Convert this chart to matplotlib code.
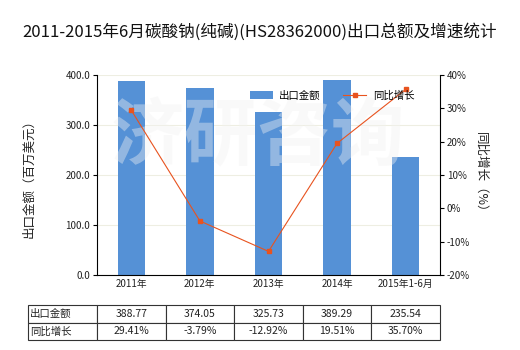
import matplotlib
matplotlib.use("Agg")
import matplotlib.pyplot as plt
import numpy as np

plt.rcParams['font.family'] = ['Noto Sans CJK SC', 'DejaVu Sans']

categories = ["2011年", "2012年", "2013年", "2014年", "2015年1-6月"]
export_values = [388.77, 374.05, 325.73, 389.29, 235.54]
growth_pct = [29.41, -3.79, -12.92, 19.51, 35.70]
export_labels = ["388.77", "374.05", "325.73", "389.29", "235.54"]
growth_labels = ["29.41%", "-3.79%", "-12.92%", "19.51%", "35.70%"]

bar_color = "#5591D6"
line_color = "#E8531F"
txt = "#222222"

fig = plt.figure(figsize=(5.2, 3.5), dpi=100)
ax = fig.add_axes([97/520, 1-275/350, 343/520, 200/350])
x = np.arange(len(categories))
ax.bar(x, export_values, width=0.4, color=bar_color, zorder=2, label="出口金额")
ax.set_xlim(-0.5, len(categories)-0.5)
ax.set_ylim(0, 400)
ax.set_yticks([0, 100, 200, 300, 400])
ax.set_yticklabels([f"{v:.1f}" for v in [0, 100, 200, 300, 400]], fontsize=7, color=txt)
ax.set_xticks(x)
ax.set_xticklabels(categories, fontsize=7, color=txt)
ax.yaxis.grid(True, color="#EEEEE2", linewidth=0.8, zorder=0)
for s in ["top", "right"]:
    ax.spines[s].set_visible(False)
ax.spines["left"].set_color("#000000")
ax.spines["bottom"].set_color("#000000")
ax.tick_params(axis="both", length=3, width=0.8, pad=2)
ax.tick_params(axis="x", length=0, pad=3)
ax.set_ylabel("出口金额（百万美元）", fontsize=9, color=txt)
ax.yaxis.set_label_coords(-0.18, 0.5)

# watermark (drawn in the bar axes so the line stays on top)
ax.text(0.47, 0.69, "济研咨询", transform=ax.transAxes, fontsize=53, color="#F2F2F2",
        alpha=0.4, ha="center", va="center", fontweight="bold", zorder=5)

ax2 = ax.twinx()
ax2.plot(x, growth_pct, color=line_color, linewidth=0.8, marker="s", markersize=3,
         markerfacecolor=line_color, markeredgecolor=line_color, zorder=3, label="同比增长")
ax2.set_ylim(-20, 40)
ax2.set_yticks([-20, -10, 0, 10, 20, 30, 40])
ax2.set_yticklabels([f"{v}%" for v in [-20, -10, 0, 10, 20, 30, 40]], fontsize=7, color=txt)
for s in ["top", "left", "bottom"]:
    ax2.spines[s].set_visible(False)
ax2.spines["right"].set_color("#000000")
ax2.tick_params(axis="y", length=3, width=0.8, pad=2)
ax2.set_ylabel("同比增长（%）", fontsize=9, color=txt, rotation=270)
ax2.yaxis.set_label_coords(1.137, 0.5)

# legend
h1, l1 = ax.get_legend_handles_labels()
h2, l2 = ax2.get_legend_handles_labels()
leg = ax2.legend(h1 + h2, l1 + l2, loc="upper right", bbox_to_anchor=(0.952, 0.97),
                 ncol=2, frameon=False, fontsize=7.5, handlelength=2.2, columnspacing=2.2,
                 handletextpad=0.6)

fig.suptitle("2011-2015年6月碳酸钠(纯碱)(HS28362000)出口总额及增速统计",
             fontsize=12, y=0.935, x=0.5, color="#111111")

# table
cell_text = [["出口金额"] + export_labels, ["同比增长"] + growth_labels]
first_w = 69/343
col_w = (1.0) / len(categories)
tbl = ax.table(cellText=cell_text, colWidths=[first_w] + [col_w]*len(categories),
               bbox=[-first_w, -0.325, first_w + 1.0, 0.175], cellLoc="center")
tbl.auto_set_font_size(False)
tbl.set_fontsize(7.5)
for (r, c), cell in tbl.get_celld().items():
    cell.set_edgecolor("#333333")
    cell.set_linewidth(0.8)
    cell.get_text().set_color(txt)
    if c == 0:
        cell.get_text().set_ha("left")
        cell._loc = "left"
        cell.PAD = 0.03

fig.savefig("out.png", dpi=100)
